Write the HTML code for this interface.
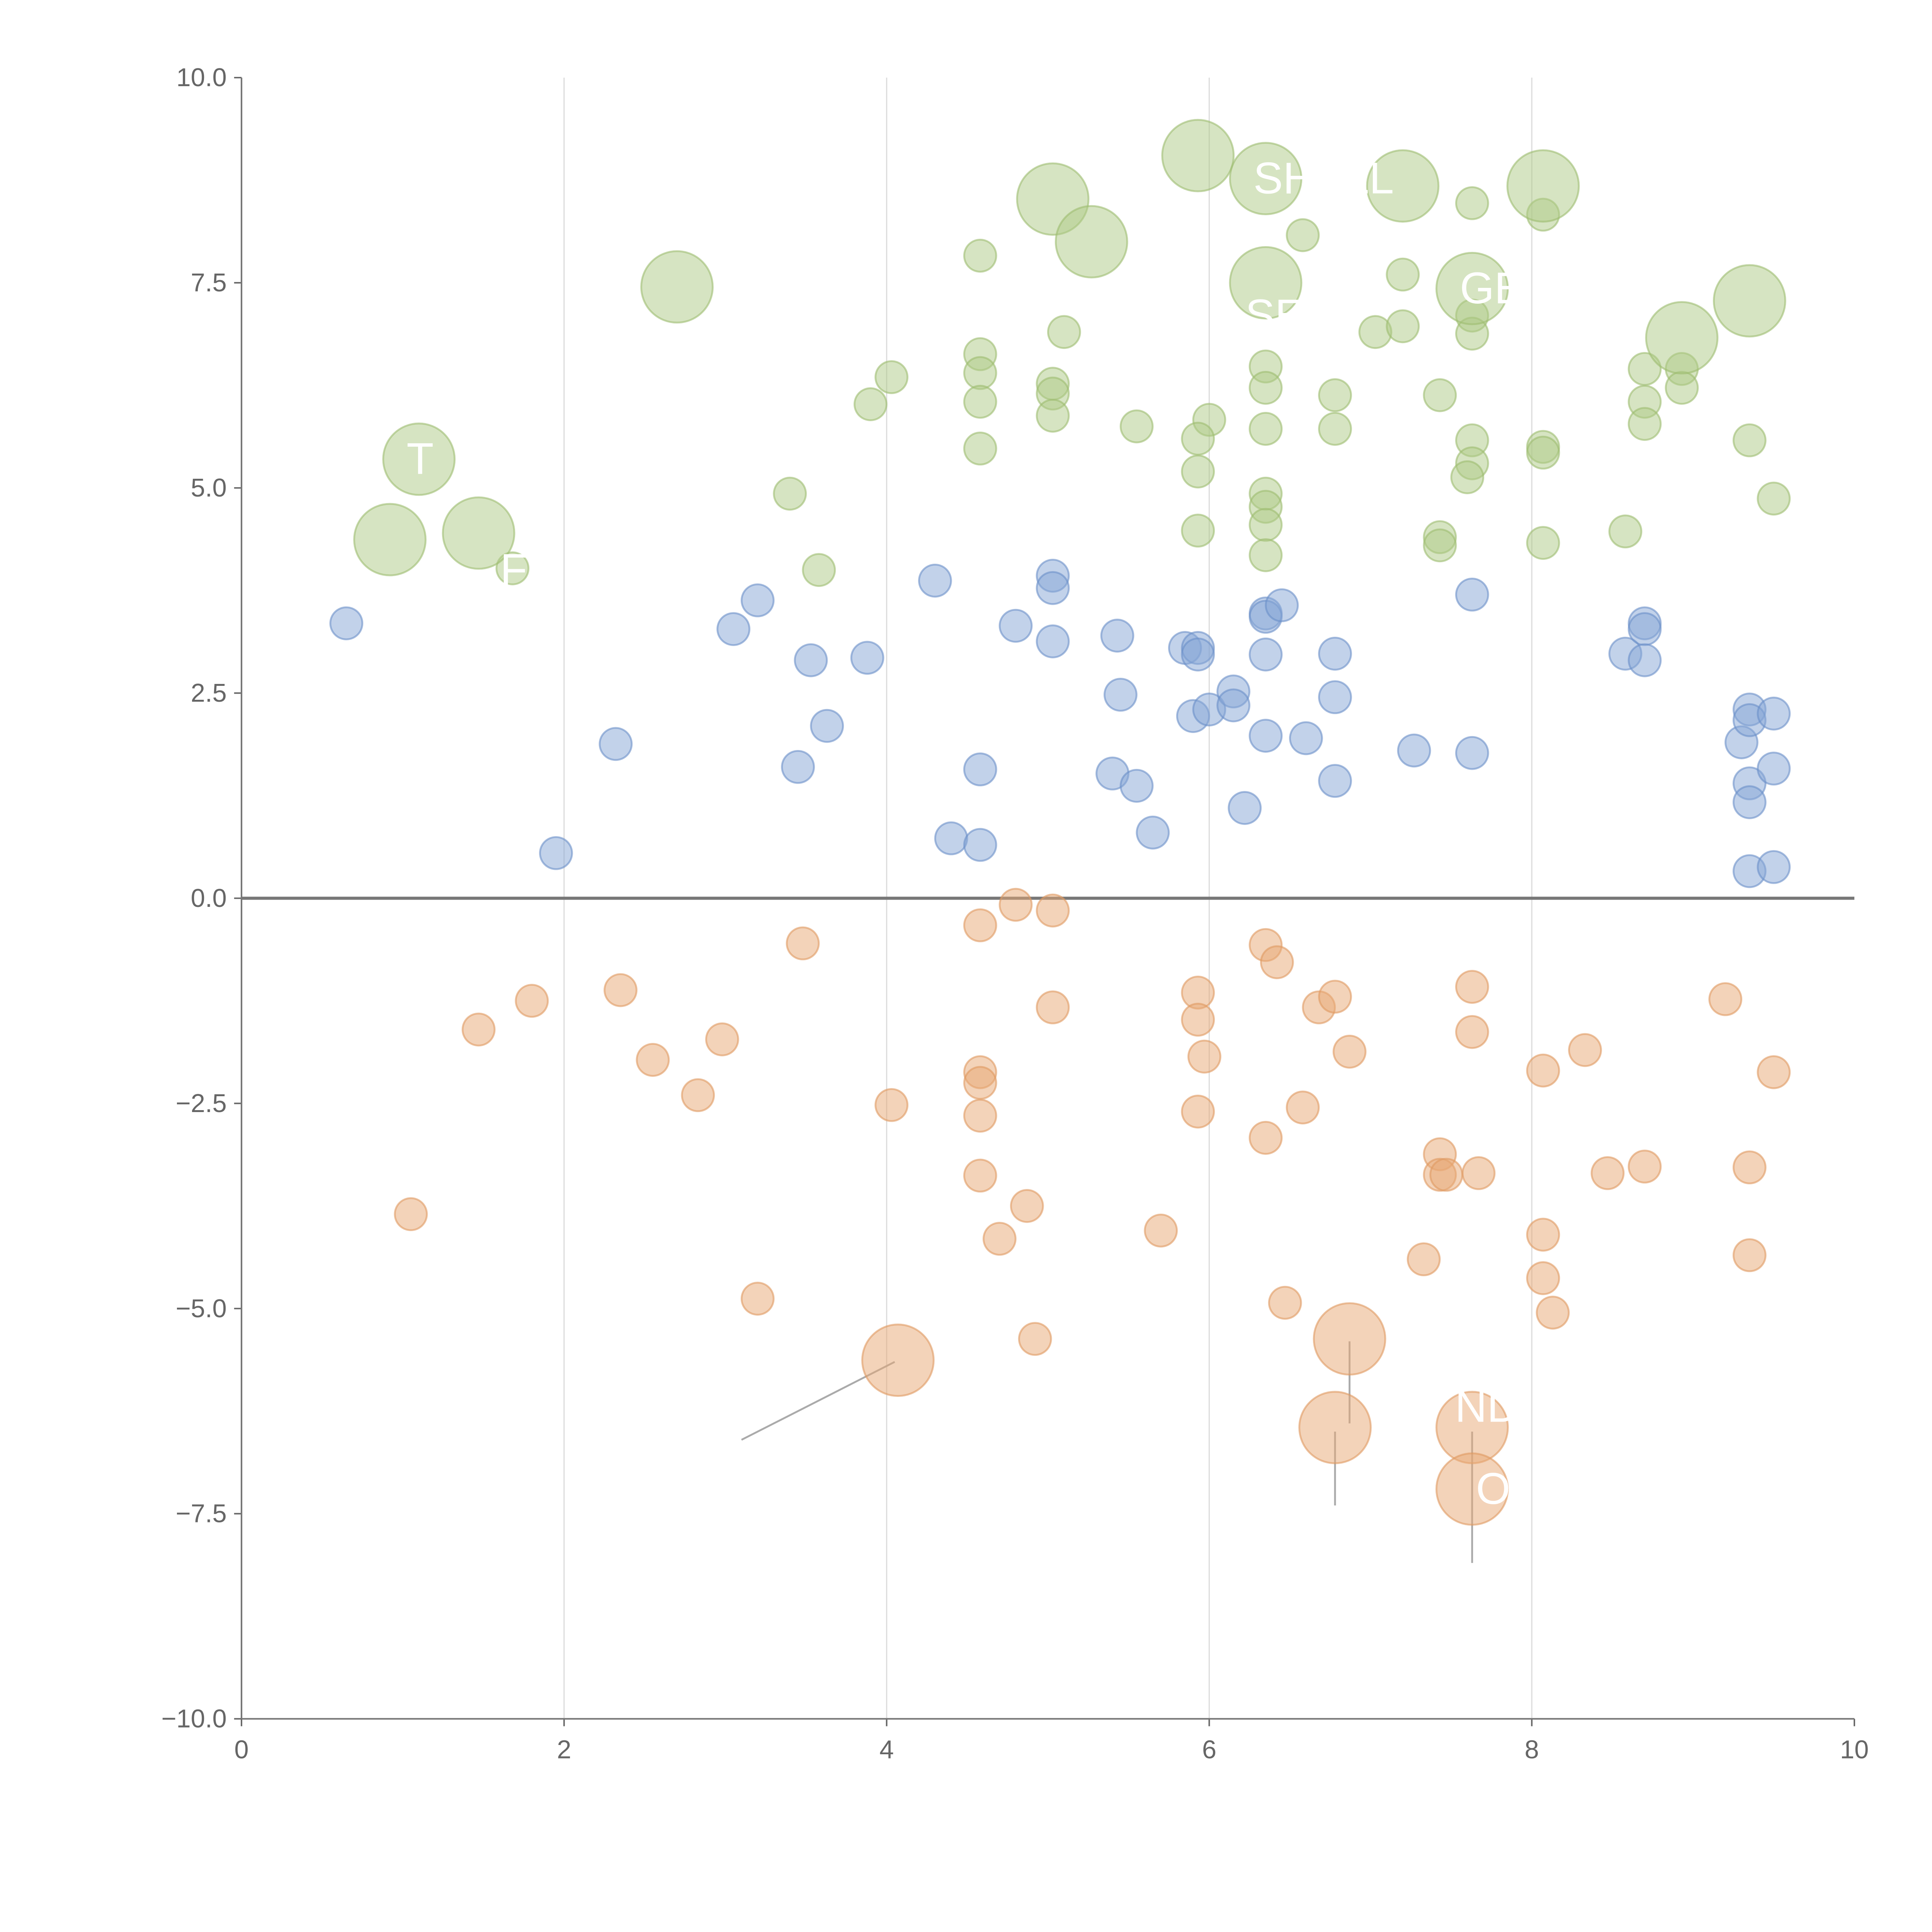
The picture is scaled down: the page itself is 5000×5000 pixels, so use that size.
<!DOCTYPE html>
<html><head><meta charset="utf-8"><style>
html,body{margin:0;padding:0;background:#fff;}
svg{display:block;}
text{font-family:"Liberation Sans",sans-serif;}
</style></head><body>
<svg id="chart" width="5000" height="5000" viewBox="0 0 1568 1568" xmlns="http://www.w3.org/2000/svg">
<g id="grid"></g>
<g id="axes"></g>
<g id="marks"></g>
<g id="labels"></g>
</svg>
<script>
const xTicks=[0,2,4,6,8,10];
const yTicks=[-10,-7.5,-5,-2.5,0,2.5,5,7.5,10];
const yTickLabels=["\u221210.0","\u22127.5","\u22125.0","\u22122.5","0.0","2.5","5.0","7.5","10.0"];
const greenSmall=[[4.58,7.83],[6.58,8.08],[7.63,8.47],[8.07,8.33],[7.2,7.6],[5.1,6.9],[7.03,6.9],[7.2,6.97],[7.63,7.1],[7.63,6.88],[4.58,6.63],[4.58,6.4],[4.58,6.05],[4.03,6.35],[3.9,6.02],[5.03,6.27],[5.03,6.15],[5.03,5.88],[5.55,5.75],[6.0,5.83],[5.93,5.6],[6.35,6.48],[6.35,6.22],[6.35,5.72],[6.78,6.13],[6.78,5.72],[7.43,6.13],[7.63,5.58],[7.63,5.3],[7.6,5.13],[8.07,5.5],[8.07,5.43],[8.7,6.45],[8.7,6.05],[8.7,5.78],[8.93,6.45],[8.93,6.22],[9.35,5.58],[9.5,4.87],[4.58,5.48],[5.93,5.2],[5.93,4.48],[6.35,4.93],[6.35,4.77],[6.35,4.55],[6.35,4.18],[7.43,4.4],[7.43,4.3],[8.07,4.33],[8.58,4.47],[3.4,4.93],[3.58,4.0],[1.68,4.02]];
const greenBig=[[1.1,5.35],[0.92,4.37],[1.47,4.45],[2.7,7.45],[5.03,8.52],[5.27,8.0],[5.93,9.05],[6.35,8.77],[7.2,8.68],[8.07,8.68],[6.35,7.5],[7.63,7.43],[9.35,7.28],[8.93,6.83]];
const blueSmall=[[0.65,3.35],[1.95,0.55],[2.32,1.88],[3.05,3.28],[3.2,3.63],[3.45,1.6],[3.53,2.9],[3.63,2.1],[3.88,2.93],[4.3,3.87],[4.4,0.73],[4.58,1.57],[4.58,0.65],[4.8,3.32],[5.03,3.93],[5.03,3.78],[5.03,3.13],[5.4,1.52],[5.43,3.2],[5.45,2.48],[5.55,1.37],[5.65,0.8],[5.85,3.05],[5.9,2.22],[5.93,3.05],[5.93,2.97],[6.0,2.3],[6.15,2.52],[6.15,2.35],[6.22,1.1],[6.35,3.47],[6.35,3.43],[6.35,2.97],[6.35,1.98],[6.45,3.57],[6.6,1.95],[6.78,2.98],[6.78,2.45],[6.78,1.43],[7.27,1.8],[7.63,3.7],[7.63,1.77],[8.58,2.98],[8.7,3.35],[8.7,3.28],[8.7,2.9],[9.3,1.9],[9.35,2.3],[9.35,2.17],[9.35,1.4],[9.35,1.17],[9.35,0.33],[9.5,2.25],[9.5,1.58],[9.5,0.38]];
const orangeSmall=[[1.05,-3.85],[1.47,-1.6],[1.8,-1.25],[2.35,-1.12],[2.55,-1.97],[2.83,-2.4],[2.98,-1.72],[3.2,-4.88],[3.48,-0.55],[4.03,-2.52],[4.58,-0.33],[4.58,-2.12],[4.58,-2.25],[4.58,-2.65],[4.58,-3.38],[4.7,-4.15],[4.8,-0.08],[4.87,-3.75],[4.92,-5.37],[5.03,-0.15],[5.03,-1.33],[5.7,-4.05],[5.93,-1.15],[5.93,-1.48],[5.93,-2.6],[5.97,-1.93],[6.35,-0.57],[6.35,-2.92],[6.42,-0.78],[6.47,-4.93],[6.58,-2.55],[6.68,-1.33],[6.78,-1.2],[6.87,-1.87],[7.33,-4.4],[7.43,-3.12],[7.43,-3.37],[7.47,-3.37],[7.63,-1.08],[7.63,-1.63],[7.67,-3.35],[8.07,-2.1],[8.07,-4.1],[8.07,-4.63],[8.13,-5.05],[8.33,-1.85],[8.47,-3.35],[8.7,-3.27],[9.2,-1.23],[9.35,-3.28],[9.35,-4.35],[9.5,-2.12]];
const orangeBig=[[4.07,-5.63],[6.87,-5.37],[6.78,-6.45],[7.63,-6.45],[7.63,-7.2]];
const labelTexts=["SHELL","GE","T","F","SE","ND","O"];
const labelPos=[[6.35,8.77],[7.63,7.43],[1.1,5.35],[1.68,4.0],[6.3,7.1],[7.6,-6.2],[7.73,-7.2]];

const NS="http://www.w3.org/2000/svg";
const X0=196,X1=1505,Y0=1395,Y1=63;
const xs=v=>X0+(v-0)/(10-0)*(X1-X0);
const ys=v=>Y0-(v+10)/20*(Y0-Y1);
function mk(tag,attrs,parent){const e=document.createElementNS(NS,tag);for(const k in attrs)e.setAttribute(k,attrs[k]);parent.appendChild(e);return e;}
const grid=document.getElementById('grid'),axes=document.getElementById('axes'),marks=document.getElementById('marks'),labels=document.getElementById('labels');
xTicks.forEach(t=>{
  if(t>0&&t<10){const l=mk('line',{x1:xs(t),x2:xs(t),y1:Y1,y2:Y0,stroke:'#dddddd','stroke-width':1},grid);
  
  }
  const tk=mk('line',{x1:xs(t),x2:xs(t),y1:Y0,y2:Y0+6,stroke:'#666','stroke-width':1.2},axes);
  
  
  const tx=mk('text',{x:xs(t),y:Y0+32,'text-anchor':'middle','font-size':21,fill:'#666'},axes);
  tx.textContent=String(t);
  
  
});
yTicks.forEach((t,i)=>{
  const tk=mk('line',{x1:X0-6,x2:X0,y1:ys(t),y2:ys(t),stroke:'#666','stroke-width':1.2},axes);
  
  
  const tx=mk('text',{x:X0-12,y:ys(t)+7,'text-anchor':'end','font-size':21,fill:'#666'},axes);
  tx.textContent=yTickLabels[i];
  
  
});
const ya=mk('line',{x1:X0,x2:X0,y1:Y1,y2:Y0,stroke:'#777','stroke-width':1.3},axes);


const xa=mk('line',{x1:X0,x2:X1,y1:Y0,y2:Y0,stroke:'#777','stroke-width':1.3},axes);


const zl=mk('line',{x1:X0,x2:X1,y1:ys(0),y2:ys(0),stroke:'#777','stroke-width':2.5},axes);



const leaders=[[[3.1,-6.6],[4.05,-5.65]],[[6.87,-5.4],[6.87,-6.4]],[[6.78,-6.5],[6.78,-7.4]],[[7.63,-6.5],[7.63,-8.1]]];
leaders.forEach(p=>{const l=mk('line',{x1:xs(p[0][0]),y1:ys(p[0][1]),x2:xs(p[1][0]),y2:ys(p[1][1]),stroke:'#aaa','stroke-width':1.5},marks);
  
  });

function draw(arr,r,fill,stroke,name){arr.forEach(d=>{
  const c=mk('circle',{cx:xs(d[0]),cy:ys(d[1]),r:r,fill:fill,'fill-opacity':0.5,stroke:stroke,'stroke-opacity':0.6,'stroke-width':1.5},marks);
  
  });}
draw(greenSmall,13,'#aeca86','#9cbd70','green-bubble');
draw(greenBig,29,'#aeca86','#9cbd70','green-large-bubble');
draw(blueSmall,13,'#86a6d6','#6b90c8','blue-bubble');
draw(orangeSmall,13,'#e8a874','#e09a60','orange-bubble');
draw(orangeBig,29,'#e8a874','#e09a60','orange-large-bubble');

labelTexts.forEach((t,i)=>{
  const tx=mk('text',{x:xs(labelPos[i][0])-10,y:ys(labelPos[i][1])+12,'font-size':36,fill:'#fff'},labels);
  tx.textContent=t;
  
  
});
</script>
</body></html>
